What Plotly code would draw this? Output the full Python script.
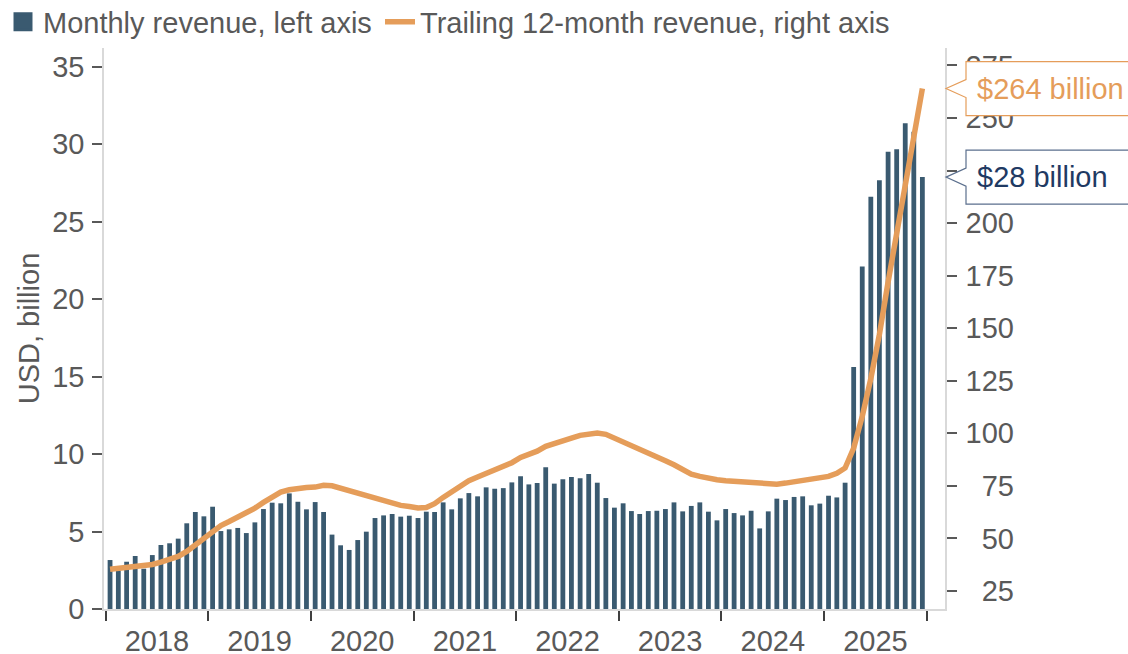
import pandas as pd
import plotly.graph_objects as go

# ---------------- data ----------------
months = pd.date_range("2018-01-01", "2025-12-01", freq="MS").strftime("%Y-%m-%d").tolist()

# Monthly revenue, USD billion (left axis)
monthly_revenue = [
    3.16, 2.50, 3.05, 3.42, 2.60, 3.48, 4.13, 4.24, 4.54, 5.53, 6.26, 5.98,   # 2018
    6.60, 5.03, 5.14, 5.23, 4.90, 5.59, 6.45, 6.86, 6.82, 7.46, 6.92, 6.43,   # 2019
    6.90, 6.26, 4.80, 4.11, 3.81, 4.45, 4.99, 5.87, 6.04, 6.13, 5.96, 6.02,   # 2020
    5.87, 6.28, 6.26, 6.88, 6.43, 7.14, 7.48, 7.27, 7.85, 7.76, 7.80, 8.17,   # 2021
    8.56, 8.04, 8.13, 9.14, 8.09, 8.37, 8.52, 8.43, 8.71, 8.15, 7.16, 6.54,   # 2022
    6.82, 6.32, 6.13, 6.32, 6.34, 6.45, 6.88, 6.30, 6.65, 6.88, 6.28, 5.72,   # 2023
    6.45, 6.19, 6.04, 6.34, 5.20, 6.30, 7.12, 7.03, 7.23, 7.27, 6.69, 6.80,   # 2024
    7.31, 7.20, 8.15, 15.62, 22.10, 26.60, 27.66, 29.50, 29.66, 31.35, 30.80, 27.87,  # 2025
]

# Trailing 12-month revenue, USD billion (right axis)
trailing_12m = [
    35.3, 35.7, 36.0, 36.6, 37.1, 37.6, 38.7, 39.8, 41.4, 43.8, 46.9, 50.1,   # 2018
    53.8, 56.1, 58.0, 59.9, 62.0, 64.4, 67.1, 69.6, 72.0, 73.1, 73.9, 74.2,   # 2019
    74.4, 75.3, 75.0, 73.8, 72.6, 71.5, 70.3, 69.1, 68.0, 66.5, 65.7, 65.2,   # 2020
    64.5, 64.7, 66.5, 69.5, 72.2, 75.0, 77.4, 79.2, 80.9, 82.6, 84.0, 86.0,   # 2021
    88.5, 89.8, 91.5, 93.8, 95.3, 96.6, 97.7, 99.0, 99.8, 100.1, 99.5, 97.7,  # 2022
    96.1, 94.5, 93.0, 90.6, 88.7, 86.9, 85.0, 82.6, 80.6, 79.5, 78.5, 77.9,   # 2023
    77.4, 77.1, 76.9, 76.9, 76.0, 75.7, 75.8, 76.3, 76.9, 77.2, 77.9, 78.7,   # 2024
    79.5, 81.0, 83.5, 93.0, 108.0, 126.0, 147.0, 172.0, 196.0, 219.0, 241.0, 264.0,  # 2025
]

left_ticks = [0, 5, 10, 15, 20, 25, 30, 35]
right_ticks = [25, 50, 75, 100, 125, 150, 175, 200, 225, 250, 275]
right_tick_labels = [("\u2007" if v < 100 else "") + str(v) for v in right_ticks]

bar_name = "Monthly revenue, left axis"
line_name = "Trailing 12-month revenue, right axis"
y_title = "USD, billion"

# ---------------- styling ----------------
FONT = "Liberation Sans, Arial, sans-serif"
FS = 29
GRAY = "#595959"
AXIS_LINE = "#d9d9d9"
NAVY_BAR = "#3a5a70"
ORANGE = "#e59d5a"
NAVY_TXT = "#1f3a63"
NAVY_BOX = "#5b6f8d"
W, H = 1128, 654
M_L, M_R, M_T, M_B = 104, 183, 48, 45
PW, PH = W - M_L - M_R, H - M_T - M_B

fig = go.Figure()

fig.add_trace(go.Bar(
    x=months, y=monthly_revenue, name=bar_name, showlegend=False, legendgroup="m",
    xperiod="M1", xperiodalignment="middle",
    marker=dict(color=NAVY_BAR, line=dict(width=0)), yaxis="y",
))
# legend entry for the bars (larger square symbol, like the reference)
fig.add_trace(go.Scatter(
    x=[None], y=[None], name=bar_name, legendgroup="m", mode="markers", legend="legend",
    marker=dict(symbol="square", size=16, color=NAVY_BAR, line=dict(color=NAVY_BAR, width=3)),
    yaxis="y",
))
fig.add_trace(go.Scatter(
    x=months, y=trailing_12m, name=line_name, mode="lines", legend="legend2",
    xperiod="M1", xperiodalignment="middle",
    line=dict(color=ORANGE, width=5.5), yaxis="y2",
))

legend_common = dict(
    orientation="h", xref="paper", yref="paper",
    xanchor="left", yanchor="top", y=(PH + M_T + 3.5) / PH,
    font=dict(size=FS, color=GRAY), bgcolor="rgba(0,0,0,0)",
    itemwidth=30, borderwidth=0,
)

fig.update_layout(
    width=W, height=H,
    margin=dict(l=M_L, r=M_R, t=M_T, b=M_B, autoexpand=False),
    paper_bgcolor="white", plot_bgcolor="white",
    font=dict(family=FONT, size=FS, color=GRAY),
    bargap=0.42,
    showlegend=True,
    legend=dict(x=(3 - M_L) / PW, **legend_common),
    legend2=dict(x=(380 - M_L) / PW, **legend_common),
    xaxis=dict(
        type="date", range=["2017-12-26", "2026-03-07"],
        tick0="2018-01-01", dtick="M12", tickformat="%Y", ticklabelmode="period",
        ticks="outside", ticklen=10, tickwidth=2, tickcolor="#404040",
        showline=True, linecolor=AXIS_LINE, linewidth=1.5,
        showgrid=False, zeroline=False, automargin=False,
        tickfont=dict(size=FS, color=GRAY), ticklabelstandoff=-5,
    ),
    yaxis=dict(
        range=[0, 36.2], tickvals=left_ticks,
        ticks="outside", ticklen=10, tickwidth=1.5, tickcolor=GRAY,
        showline=True, linecolor=AXIS_LINE, linewidth=1.5,
        showgrid=False, zeroline=False, automargin=False,
        tickfont=dict(size=FS, color=GRAY), ticklabelstandoff=2,
        title=dict(text=y_title, font=dict(size=FS, color=GRAY), standoff=4),
    ),
    yaxis2=dict(
        overlaying="y", side="right", anchor="x",
        range=[16.4, 283.3], tickvals=right_ticks, ticktext=right_tick_labels,
        ticks="outside", ticklen=10, tickwidth=1.5, tickcolor=GRAY,
        showline=True, linecolor=AXIS_LINE, linewidth=1.5,
        showgrid=False, zeroline=False, automargin=False,
        tickfont=dict(size=FS, color=GRAY), ticklabelstandoff=3,
    ),
)

# ---------------- call-out labels at the right axis ----------------
def callout(yref, yval, border):
    return dict(
        type="path", layer="above", xref="paper", yref=yref,
        xsizemode="pixel", xanchor=1, ysizemode="pixel", yanchor=yval,
        path="M1,0 L21,9 L21,27 L210,27 L210,-27 L21,-27 L21,-9 Z",
        fillcolor="white", line=dict(color=border, width=1.2),
    )

fig.add_shape(**callout("y2", trailing_12m[-1], ORANGE))
fig.add_shape(**callout("y", monthly_revenue[-1], NAVY_BOX))

fig.add_annotation(
    xref="paper", x=1, xanchor="left", xshift=30, yref="y2", y=trailing_12m[-1],
    yanchor="middle", text=f"${trailing_12m[-1]:.0f} billion", showarrow=False,
    font=dict(size=FS, color=ORANGE),
)
fig.add_annotation(
    xref="paper", x=1, xanchor="left", xshift=30, yref="y", y=monthly_revenue[-1],
    yanchor="middle", text=f"${monthly_revenue[-1]:.0f} billion", showarrow=False,
    font=dict(size=FS, color=NAVY_TXT),
)

fig.write_html(
    "out.html",
    config={"displayModeBar": False},
    post_script="document.body.style.margin='0';document.body.style.overflow='hidden';",
)
